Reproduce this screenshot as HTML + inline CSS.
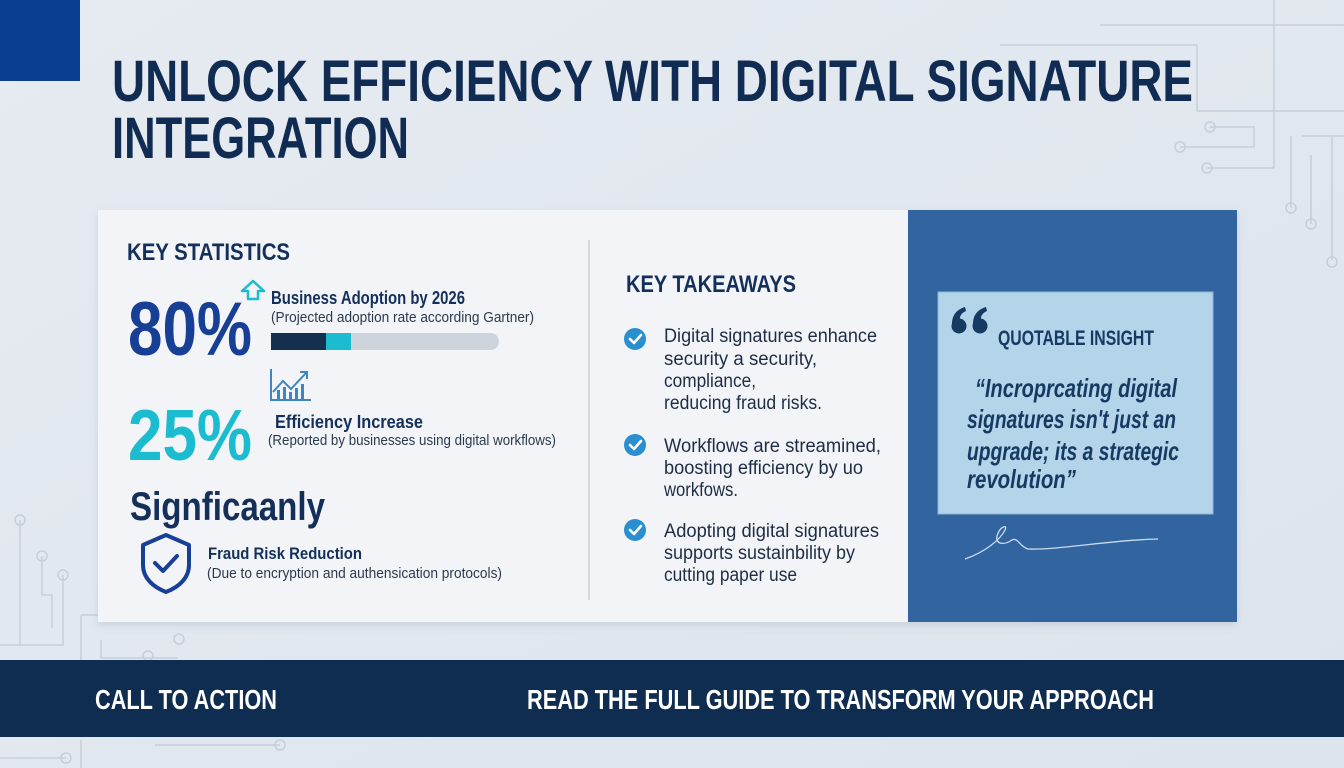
<!DOCTYPE html>
<html><head><meta charset="utf-8"><style>
html,body{margin:0;padding:0;width:1344px;height:768px;overflow:hidden;background:#e2e8ef}
svg{display:block}
text{font-family:"Liberation Sans",sans-serif}
</style></head><body>
<svg width="1344" height="768" viewBox="0 0 1344 768" xmlns="http://www.w3.org/2000/svg">
<defs>
<linearGradient id="bg" x1="0" y1="0" x2="1" y2="1"><stop offset="0" stop-color="#e6ebf1"/><stop offset="1" stop-color="#dde4ec"/></linearGradient>
<filter id="sh" x="-5%" y="-5%" width="110%" height="115%"><feDropShadow dx="0" dy="3" stdDeviation="4" flood-color="#8090a8" flood-opacity="0.25"/></filter>
</defs>
<rect width="1344" height="768" fill="url(#bg)"/>
<g stroke="#c6cfd9" stroke-width="1.5" fill="none">
<path d="M1100 25H1344M1274 0V168M1197 111H1344M1197 45V111M1000 45H1197"/>
<path d="M1210 127H1254V147H1180M1274 168H1207M1291 136V208M1302 136H1344M1311 155V189H1311V224M1332 136V260"/>
<circle cx="1210" cy="127" r="5"/><circle cx="1180" cy="147" r="5"/><circle cx="1207" cy="168" r="5"/><circle cx="1291" cy="208" r="5"/><circle cx="1311" cy="224" r="5"/><circle cx="1332" cy="262" r="5"/>
<path d="M20 520V645H63V575M42 556V595H52V628M0 645H63M81 615V660M81 615H98M101 640V658H178M0 758H66M155 745H280M81 740V768"/>
<circle cx="20" cy="520" r="5"/><circle cx="42" cy="556" r="5"/><circle cx="63" cy="575" r="5"/><circle cx="179" cy="639" r="5"/><circle cx="148" cy="656" r="5"/><circle cx="66" cy="758" r="5"/><circle cx="280" cy="745" r="5"/>
</g>
<rect x="0" y="0" width="80" height="81" fill="#0a3f8f"/>
<text x="112" y="101" font-size="58" font-weight="700" fill="#112c52" textLength="1081" lengthAdjust="spacingAndGlyphs">UNLOCK EFFICIENCY WITH DIGITAL SIGNATURE</text>
<text x="112" y="158" font-size="58" font-weight="700" fill="#112c52" textLength="297" lengthAdjust="spacingAndGlyphs">INTEGRATION</text>
<g filter="url(#sh)"><rect x="98" y="210" width="1139" height="412" fill="#f2f4f7"/></g>
<rect x="908" y="210" width="329" height="412" fill="#3264a0"/>
<line x1="589" y1="240" x2="589" y2="600" stroke="#c9cfd7" stroke-width="1.5"/>
<text x="127" y="260" font-size="24" font-weight="700" fill="#14305a" textLength="163" lengthAdjust="spacingAndGlyphs">KEY STATISTICS</text>
<path d="M253 281L264 291H258V299H248V291H242Z" fill="none" stroke="#1bbcd0" stroke-width="2.5" stroke-linejoin="round"/>
<text x="128" y="355" font-size="76" font-weight="700" fill="#173f96" textLength="124" lengthAdjust="spacingAndGlyphs">80%</text>
<text x="271" y="304" font-size="18" font-weight="700" fill="#14305a" textLength="194" lengthAdjust="spacingAndGlyphs">Business Adoption by 2026</text>
<text x="271" y="322" font-size="14.5" fill="#2c3a4e" textLength="263" lengthAdjust="spacingAndGlyphs">(Projected adoption rate according Gartner)</text>
<rect x="271" y="333" width="228" height="17" rx="8.5" fill="#cdd4dc"/>
<rect x="271" y="333" width="56" height="17" fill="#14304f"/>
<rect x="326" y="333" width="25" height="17" fill="#1bbcd0"/>
<g stroke="#3d86c4" stroke-width="2" fill="none"><path d="M271 369V400H311"/><path d="M273 392L283 381L291 389L306 373"/><path d="M300 372H307V379"/></g>
<g fill="#3d86c4"><rect x="277" y="390" width="3" height="9"/><rect x="283" y="387" width="3" height="12"/><rect x="289" y="392" width="3" height="7"/><rect x="295" y="388" width="3" height="11"/><rect x="301" y="384" width="3" height="15"/></g>
<text x="128" y="460" font-size="72" font-weight="700" fill="#1bbcd0" textLength="124" lengthAdjust="spacingAndGlyphs">25%</text>
<text x="275" y="428" font-size="18" font-weight="700" fill="#14305a" textLength="148" lengthAdjust="spacingAndGlyphs">Efficiency Increase</text>
<text x="268" y="445" font-size="14.5" fill="#2c3a4e" textLength="288" lengthAdjust="spacingAndGlyphs">(Reported by businesses using digital workflows)</text>
<text x="130" y="520" font-size="40" font-weight="700" fill="#14305a" textLength="195" lengthAdjust="spacingAndGlyphs">Signficaanly</text>
<path d="M166 535L189 545V565C189 578 179 587 166 592C153 587 143 578 143 565V545Z" fill="none" stroke="#173f96" stroke-width="4" stroke-linejoin="round"/>
<path d="M155 563L163 571L177 556" fill="none" stroke="#173f96" stroke-width="4" stroke-linecap="round" stroke-linejoin="round"/>
<text x="208" y="559" font-size="17" font-weight="700" fill="#14305a" textLength="154" lengthAdjust="spacingAndGlyphs">Fraud Risk Reduction</text>
<text x="207" y="578" font-size="14.5" fill="#2c3a4e" textLength="295" lengthAdjust="spacingAndGlyphs">(Due to encryption and authensication protocols)</text>
<text x="626" y="292" font-size="24" font-weight="700" fill="#14305a" textLength="170" lengthAdjust="spacingAndGlyphs">KEY TAKEAWAYS</text>
<g fill="#2a8fd0"><circle cx="635" cy="339" r="11"/><circle cx="635" cy="445" r="11"/><circle cx="635" cy="530" r="11"/></g>
<g stroke="#fff" stroke-width="2.6" fill="none" stroke-linecap="round" stroke-linejoin="round"><path d="M630 339L634 343L641 335"/><path d="M630 445L634 449L641 441"/><path d="M630 530L634 534L641 526"/></g>
<g font-size="19" fill="#1e2d44">
<text x="664" y="342" textLength="213" lengthAdjust="spacingAndGlyphs">Digital signatures enhance</text>
<text x="664" y="365" textLength="153" lengthAdjust="spacingAndGlyphs">security a security,</text>
<text x="664" y="387" textLength="92" lengthAdjust="spacingAndGlyphs">compliance,</text>
<text x="664" y="409" textLength="158" lengthAdjust="spacingAndGlyphs">reducing fraud risks.</text>
<text x="664" y="452" textLength="217" lengthAdjust="spacingAndGlyphs">Workflows are streamined,</text>
<text x="664" y="474" textLength="199" lengthAdjust="spacingAndGlyphs">boosting efficiency by uo</text>
<text x="664" y="496" textLength="74" lengthAdjust="spacingAndGlyphs">workfows.</text>
<text x="664" y="537" textLength="215" lengthAdjust="spacingAndGlyphs">Adopting digital signatures</text>
<text x="664" y="559" textLength="191" lengthAdjust="spacingAndGlyphs">supports sustainbility by</text>
<text x="664" y="581" textLength="133" lengthAdjust="spacingAndGlyphs">cutting paper use</text>
</g>
<rect x="938" y="292" width="275" height="222" fill="#b4d4ea" stroke="#8db6d8" stroke-width="1"/>
<g fill="#163a62">
<circle cx="959" cy="326" r="7.5"/><path d="M952 324C952 314 958 309 965 307L966 311C961 313 959 317 960 322Z"/>
<circle cx="980" cy="326" r="7.5"/><path d="M973 324C973 314 979 309 986 307L987 311C982 313 980 317 981 322Z"/>
</g>
<text x="998" y="345" font-size="21" font-weight="700" fill="#163a62" textLength="156" lengthAdjust="spacingAndGlyphs">QUOTABLE INSIGHT</text>
<g font-size="26" font-weight="700" font-style="italic" fill="#163a62">
<text x="975" y="397" textLength="202" lengthAdjust="spacingAndGlyphs">“Incroprcating digital</text>
<text x="967" y="428" textLength="209" lengthAdjust="spacingAndGlyphs">signatures isn't just an</text>
<text x="967" y="460" textLength="212" lengthAdjust="spacingAndGlyphs">upgrade; its a strategic</text>
<text x="967" y="488" textLength="109" lengthAdjust="spacingAndGlyphs">revolution”</text>
</g>
<path d="M965 559C985 552 1000 540 1005 530C1008 524 1000 526 997 536C995 545 1005 545 1012 540C1018 537 1020 547 1028 549C1060 550 1110 540 1158 539" fill="none" stroke="#c8dbef" stroke-width="1.3"/>
<rect x="0" y="660" width="1344" height="77" fill="#0f2d50"/>
<text x="95" y="709" font-size="28" font-weight="700" fill="#fff" textLength="182" lengthAdjust="spacingAndGlyphs">CALL TO ACTION</text>
<text x="527" y="709" font-size="28" font-weight="700" fill="#fff" textLength="627" lengthAdjust="spacingAndGlyphs">READ THE FULL GUIDE TO TRANSFORM YOUR APPROACH</text>
</svg>
</body></html>
